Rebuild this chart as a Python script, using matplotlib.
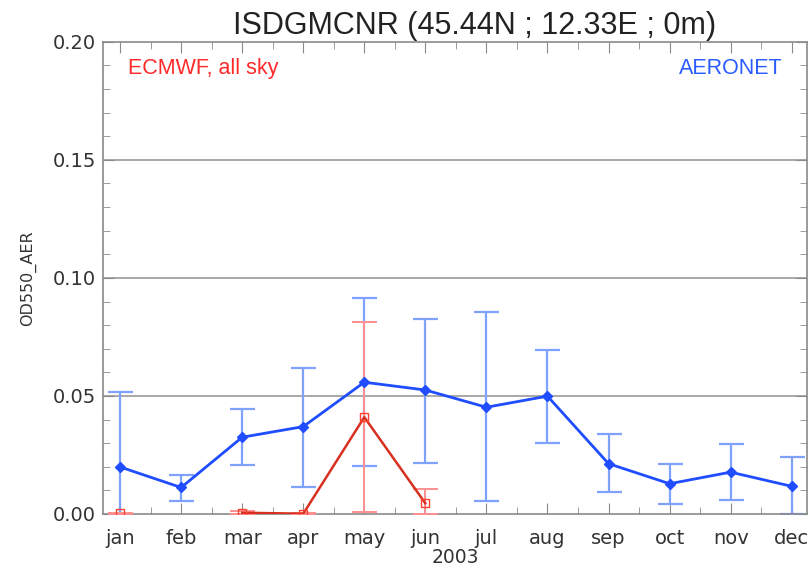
import numpy as np
import matplotlib
matplotlib.use("Agg")
import matplotlib.pyplot as plt
from matplotlib.ticker import MultipleLocator

months = ["jan", "feb", "mar", "apr", "may", "jun",
          "jul", "aug", "sep", "oct", "nov", "dec"]

# AERONET monthly means and error bar ends
aer_val = [0.0199, 0.0112, 0.0325, 0.0370, 0.0558, 0.0525,
           0.0452, 0.0499, 0.0213, 0.0128, 0.0177, 0.0117]
aer_hi = [0.0516, 0.0165, 0.0446, 0.0620, 0.0914, 0.0825,
          0.0855, 0.0694, 0.0338, 0.0213, 0.0298, 0.0240]
aer_lo = [0.0, 0.0055, 0.0206, 0.0116, 0.0203, 0.0217,
          0.0055, 0.0302, 0.0092, 0.0042, 0.0058, 0.0]

# ECMWF all sky (nan = no data)
ec_val = [0.0002, np.nan, 0.0005, 0.0001, 0.0410, 0.0045,
          np.nan, np.nan, np.nan, np.nan, np.nan, np.nan]
ec_hi = [0.0005, np.nan, 0.0012, 0.0003, 0.0812, 0.0107,
         np.nan, np.nan, np.nan, np.nan, np.nan, np.nan]
ec_lo = [0.0, np.nan, 0.0, 0.0, 0.0010, 0.0,
         np.nan, np.nan, np.nan, np.nan, np.nan, np.nan]

x = np.arange(len(months))
aer_val = np.array(aer_val)
ec_val = np.array(ec_val)

fig = plt.figure(figsize=(8.11, 5.66), dpi=100)
ax = fig.add_axes([0.127, 0.092, 0.868, 0.834])

grey = "#8a8a8a"
for v in [0.05, 0.10, 0.15]:
    ax.axhline(v, color="#9a9a9a", lw=1.2, zorder=0)

# blue error bars
ax.errorbar(x, aer_val,
            yerr=[aer_val - np.array(aer_lo), np.array(aer_hi) - aer_val],
            fmt="none", ecolor="#80a2ff", elinewidth=1.6, capsize=9,
            capthick=1.6, zorder=2)
ax.plot(x, aer_val, color="#1f4dff", lw=2, marker="D", ms=5,
        markerfacecolor="#1f4dff", zorder=4)

# red error bars
ok = ~np.isnan(ec_val)
ax.errorbar(x[ok], ec_val[ok],
            yerr=[ec_val[ok] - np.array(ec_lo)[ok], np.array(ec_hi)[ok] - ec_val[ok]],
            fmt="none", ecolor="#ff9090", elinewidth=1.4, capsize=9,
            capthick=1.4, zorder=3)
ax.plot(x, ec_val, color="#d83020", lw=1.8, marker="s", ms=6,
        markerfacecolor="none", markeredgecolor="#ff4030", zorder=5)

ax.set_xlim(-0.28, 11.25)
ax.set_ylim(0, 0.20)
ax.set_xticks(x)
ax.set_xticklabels(months)
ax.xaxis.set_minor_locator(MultipleLocator(0.5))
ax.set_yticks([0, 0.05, 0.10, 0.15, 0.20])
ax.set_yticklabels(["0.00", "0.05", "0.10", "0.15", "0.20"])
ax.yaxis.set_minor_locator(MultipleLocator(0.01))
ax.tick_params(which="both", direction="in", top=True, right=True,
               color=grey, labelsize=14, labelcolor="#333333")
ax.tick_params(which="major", length=8)
ax.tick_params(which="minor", length=5)
ax.tick_params(axis="x", which="major", pad=11)
ax.tick_params(axis="y", which="major", pad=5)
for s in ax.spines.values():
    s.set_color(grey)
    s.set_linewidth(1.2)

ax.set_xlabel("2003", fontsize=13.5, color="#333333", labelpad=0)
ax.set_ylabel("OD550_AER", fontsize=11.5, color="#333333", labelpad=12)
ax.set_title("ISDGMCNR (45.44N ; 12.33E ; 0m)", fontsize=22, x=0.528,
             family="Liberation Sans", color="#222222", pad=6)

ax.text(0.035, 0.965, "ECMWF, all sky", transform=ax.transAxes, color="#ff2a2a",
        fontsize=15.5, family="Liberation Sans", va="top", ha="left")
ax.text(0.965, 0.965, "AERONET", transform=ax.transAxes, color="#2a5cff",
        fontsize=15.5, family="Liberation Sans", va="top", ha="right")

fig.savefig("out.png", dpi=100)
